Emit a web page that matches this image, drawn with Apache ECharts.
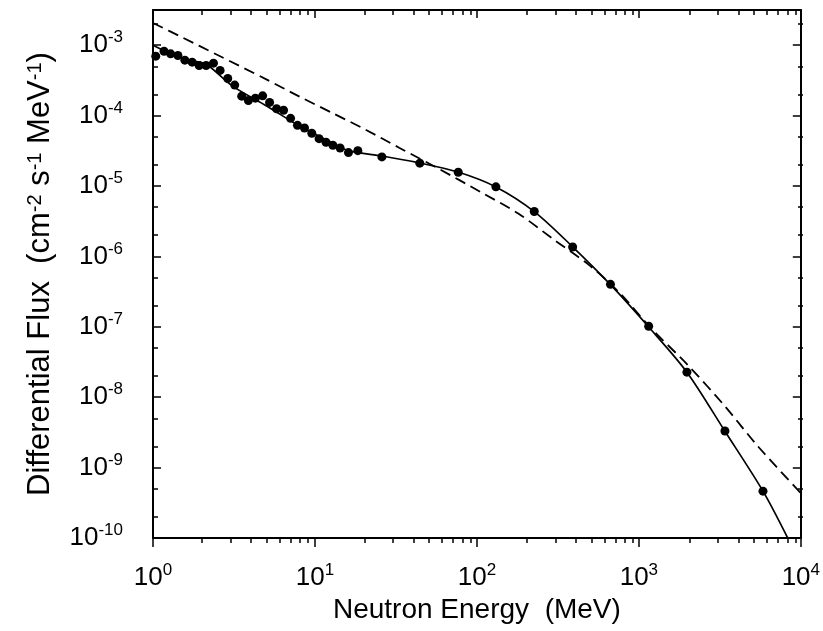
<!DOCTYPE html>
<html>
<head>
<meta charset="utf-8">
<script src="https://cdn.jsdelivr.net/npm/echarts@6/dist/echarts.min.js"></script>
<style>
  html, body { margin: 0; padding: 0; background: #fff; }
  #chart { width: 823px; height: 631px; }
</style>
</head>
<body>
<div id="chart"></div>
<script>
// measured points (dots)
var dotEnergy = [1.04, 1.17, 1.285, 1.425, 1.573, 1.745, 1.927, 2.128, 2.363, 2.596,
    2.894, 3.196, 3.529, 3.881, 4.285, 4.753, 5.248, 5.796, 6.40, 7.07,
    7.80, 8.62, 9.56, 10.6, 11.7, 12.9, 14.3, 16.1, 18.4, 25.9,
    44.4, 76.7, 131, 226, 390, 668, 1150, 1980, 3400, 5840];
var dotFlux = [6.98e-4, 8.22e-4, 7.53e-4, 7.14e-4, 6.13e-4, 5.74e-4, 5.15e-4, 5.15e-4, 5.56e-4, 4.38e-4,
    3.37e-4, 2.71e-4, 1.89e-4, 1.64e-4, 1.77e-4, 1.91e-4, 1.54e-4, 1.25e-4, 1.19e-4, 9.15e-5,
    7.27e-5, 6.67e-5, 5.61e-5, 4.70e-5, 4.18e-5, 3.79e-5, 3.47e-5, 2.98e-5, 3.18e-5, 2.59e-5,
    2.11e-5, 1.57e-5, 9.73e-6, 4.35e-6, 1.36e-6, 4.01e-7, 1.02e-7, 2.27e-8, 3.31e-9, 4.63e-10];

// solid curve
var fitEnergy = [1, 1.27, 1.69, 2.12, 3.1, 5.03, 8.03, 12.8, 16.3, 26,
    44, 76.4, 131, 227, 390, 668, 1143, 1985, 3400, 5840, 8300];
var fitFlux = [1.0e-3, 7.7e-4, 6.1e-4, 5.4e-4, 2.62e-4, 1.37e-4, 7.1e-5, 4.08e-5, 3.15e-5, 2.67e-5,
    2.13e-5, 1.58e-5, 9.7e-6, 4.3e-6, 1.37e-6, 3.97e-7, 1.01e-7, 2.25e-8, 3.28e-9, 4.63e-10, 1.0e-10];

// dashed curve
var modelEnergy = [1, 1.536, 2.47, 5.01, 8.03, 12.8, 20.7, 33.1, 58.3, 107,
    181, 305, 489, 748, 1194, 2018, 3406, 5430, 10000];
var modelFlux = [2.07e-3, 1.27e-3, 7.38e-4, 3.27e-4, 1.86e-4, 1.09e-4, 6.25e-5, 3.5e-5, 1.75e-5, 8.07e-6,
    4.03e-6, 1.67e-6, 7.64e-7, 3.16e-7, 9.46e-8, 2.82e-8, 7.41e-9, 2.01e-9, 4.35e-10];

var xMin = 1, xMax = 1e4;
var yMin = 1e-10, yMax = Math.pow(10, -2.5);

// minor tick positions
var xMinorTicks = [];
for (var d = 0; d < 4; d++) {
    for (var k = 2; k <= 9; k++) xMinorTicks.push(k * Math.pow(10, d));
}
var yMinorTicks = [];
for (var e = -10; e <= -3; e++) {
    [2, 5].forEach(function (k) {
        var v = k * Math.pow(10, e);
        if (v < yMax) yMinorTicks.push(v);
    });
}

function zip(a, b) {
    return a.map(function (v, i) { return [v, b[i]]; });
}

var font = 'Liberation Sans, Arial, sans-serif';
var black = '#000';

function powLabel(v) {
    return '{b|10}{s|' + Math.round(Math.log10(v)) + '}';
}
var labelRich = {
    b: { fontSize: 26, fontFamily: font, color: black, lineHeight: 32 },
    s: { fontSize: 17, fontFamily: font, color: black, lineHeight: 19, verticalAlign: 'top' }
};

function frameAxis(opt) {
    var base = {
        type: 'log',
        logBase: 10,
        axisLine: { show: true, onZero: false, lineStyle: { color: black, width: 2 } },
        axisTick: { show: true, inside: true, length: 8, lineStyle: { color: black, width: 1.5 } },
        axisLabel: { show: false },
        splitLine: { show: false },
        minorTick: { show: false }
    };
    return Object.assign(base, opt);
}

var chart = echarts.init(document.getElementById('chart'));

var option = {
    animation: false,
    backgroundColor: '#fff',
    grid: [
        { left: 153, right: 20, top: 10, bottom: 93 },
        { left: 153, right: 20, top: 10, bottom: 93 }
    ],
    xAxis: [
        frameAxis({
            gridIndex: 0, position: 'bottom', min: xMin, max: xMax, splitNumber: 5,
            axisTick: { show: true, inside: false, length: 9, lineStyle: { color: black, width: 1.5 } },
            axisLabel: { show: true, margin: 24, formatter: powLabel, rich: labelRich },
            name: 'Neutron Energy  (MeV)',
            nameLocation: 'middle',
            nameGap: 58,
            nameTextStyle: { fontSize: 28, fontFamily: font, color: black }
        }),
        frameAxis({ gridIndex: 0, position: 'top', min: xMin, max: xMax, splitNumber: 5 }),
        frameAxis({
            gridIndex: 1, position: 'bottom', min: xMin, max: xMax,
            axisLine: { show: false },
            axisTick: { show: true, inside: false, length: 5, customValues: xMinorTicks,
                lineStyle: { color: black, width: 1.5 } }
        }),
        frameAxis({
            gridIndex: 1, position: 'top', min: xMin, max: xMax,
            axisLine: { show: false },
            axisTick: { show: true, inside: true, length: 5, customValues: xMinorTicks,
                lineStyle: { color: black, width: 1.5 } }
        })
    ],
    yAxis: [
        frameAxis({
            gridIndex: 0, position: 'left', min: yMin, max: yMax, splitNumber: 8,
            axisLabel: { show: true, margin: 30, showMaxLabel: false, formatter: powLabel, rich: labelRich },
            name: 'Differential Flux  (cm{s|-2} s{s|-1} MeV{s|-1})',
            nameLocation: 'middle',
            nameGap: 97,
            nameTextStyle: {
                fontSize: 31, fontFamily: font, color: black,
                rich: { s: { fontSize: 20, fontFamily: font, color: black, lineHeight: 22, verticalAlign: 'top' } }
            }
        }),
        frameAxis({ gridIndex: 0, position: 'right', min: yMin, max: yMax, splitNumber: 8 }),
        frameAxis({
            gridIndex: 1, position: 'left', min: yMin, max: yMax,
            axisLine: { show: false },
            axisTick: { show: true, inside: true, length: 5, customValues: yMinorTicks,
                lineStyle: { color: black, width: 1.5 } }
        }),
        frameAxis({
            gridIndex: 1, position: 'right', min: yMin, max: yMax,
            axisLine: { show: false },
            axisTick: { show: true, inside: true, length: 5, customValues: yMinorTicks,
                lineStyle: { color: black, width: 1.5 } }
        })
    ],
    series: [
        {
            name: 'model',
            type: 'line',
            xAxisIndex: 0, yAxisIndex: 0,
            data: zip(modelEnergy, modelFlux),
            showSymbol: false,
            smooth: 0.3,
            lineStyle: { color: black, width: 1.8, type: [11, 6] },
            z: 2
        },
        {
            name: 'fit',
            type: 'line',
            xAxisIndex: 0, yAxisIndex: 0,
            data: zip(fitEnergy, fitFlux),
            showSymbol: false,
            smooth: 0.3,
            lineStyle: { color: black, width: 1.7 },
            z: 3
        },
        {
            name: 'measured',
            type: 'scatter',
            xAxisIndex: 0, yAxisIndex: 0,
            data: zip(dotEnergy, dotFlux),
            symbolSize: 9,
            itemStyle: { color: black, opacity: 1 },
            z: 4
        }
    ]
};

chart.setOption(option);
</script>
</body>
</html>
